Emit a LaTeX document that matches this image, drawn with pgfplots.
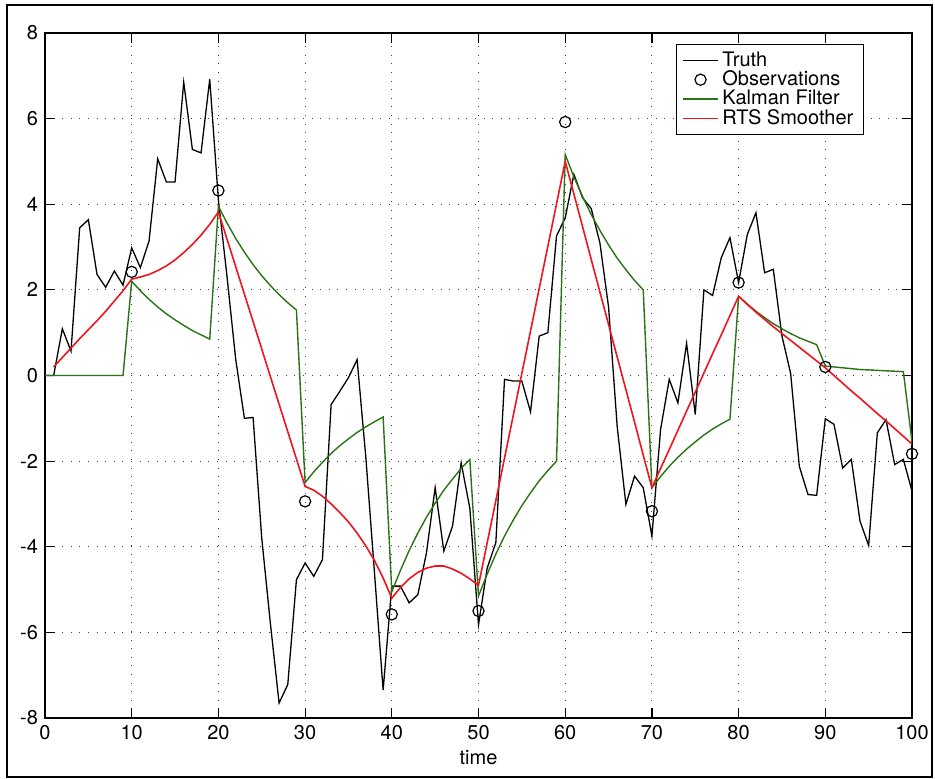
\documentclass[border=0pt]{standalone}
\usepackage{fontspec}
\setmainfont{TeX Gyre Heros}
\usepackage{pgfplots}
\usepackage{pgfplotstable}
\pgfplotsset{compat=1.18}
\definecolor{kfgreen}{RGB}{40,115,20}
\definecolor{rtsred}{RGB}{240,20,30}

\pgfplotstableread{
t y
0 0
1 0
2 1.09
3 0.57
4 3.45
5 3.64
6 2.36
7 2.06
8 2.44
9 2.11
10 2.98
11 2.52
12 3.14
13 5.06
14 4.52
15 4.52
16 6.85
17 5.28
18 5.2
19 6.92
20 4.1
21 2.3
22 0.37
23 -1.0
24 -0.98
25 -3.8
26 -5.8
27 -7.65
28 -7.22
29 -4.77
30 -4.38
31 -4.69
32 -4.3
33 -0.68
34 -0.37
35 -0.05
36 0.37
37 -1.9
38 -4.6
39 -7.35
40 -4.92
41 -4.92
42 -5.31
43 -5.12
44 -4.14
45 -2.62
46 -4.1
47 -3.52
48 -2.04
49 -3.1
50 -5.82
51 -4.5
52 -3.9
53 -0.09
54 -0.13
55 -0.13
56 -0.85
57 0.92
58 1.0
59 3.26
60 3.68
61 4.7
62 4.15
63 3.9
64 3.1
65 1.6
66 -1.2
67 -3.01
68 -2.35
69 -2.62
70 -3.75
71 -1.26
72 -0.09
73 -0.64
74 0.75
75 -0.91
76 2.0
77 1.87
78 2.75
79 3.22
80 2.17
81 3.29
82 3.8
83 2.4
84 2.48
85 0.92
86 0.05
87 -2.12
88 -2.78
89 -2.8
90 -1.01
91 -1.14
92 -2.16
93 -1.96
94 -3.4
95 -3.97
96 -1.34
97 -1.03
98 -2.08
99 -1.96
100 -2.7
}\truth

\pgfplotstableread{
t y
10 2.42
20 4.32
30 -2.94
40 -5.58
50 -5.5
60 5.92
70 -3.17
80 2.17
90 0.2
100 -1.83
}\obs

\pgfplotstableread{
t y
0 0
1 0
2 0
3 0
4 0
5 0
6 0
7 0
8 0
9 0
10 2.2
11 1.98
12 1.78
13 1.60
14 1.44
15 1.30
16 1.17
17 1.05
18 0.95
19 0.85
20 3.95
21 3.56
22 3.20
23 2.88
24 2.59
25 2.33
26 2.10
27 1.89
28 1.70
29 1.53
30 -2.5
31 -2.25
32 -2.03
33 -1.82
34 -1.64
35 -1.48
36 -1.33
37 -1.20
38 -1.08
39 -0.97
40 -5.05
41 -4.55
42 -4.09
43 -3.68
44 -3.31
45 -2.98
46 -2.68
47 -2.42
48 -2.17
49 -1.96
50 -5.15
51 -4.64
52 -4.17
53 -3.75
54 -3.38
55 -3.04
56 -2.74
57 -2.46
58 -2.22
59 -2.0
60 5.16
61 4.64
62 4.18
63 3.76
64 3.39
65 3.05
66 2.74
67 2.47
68 2.22
69 2.0
70 -2.62
71 -2.36
72 -2.12
73 -1.91
74 -1.72
75 -1.55
76 -1.39
77 -1.25
78 -1.13
79 -1.02
80 1.85
81 1.67
82 1.50
83 1.35
84 1.21
85 1.09
86 0.98
87 0.88
88 0.80
89 0.72
90 0.22
91 0.20
92 0.18
93 0.16
94 0.14
95 0.13
96 0.12
97 0.11
98 0.10
99 0.09
100 -1.55
}\kf

\pgfplotstableread{
t y
1 0.2
2 0.42
3 0.64
4 0.86
5 1.07
6 1.28
7 1.5
8 1.74
9 1.98
10 2.25
11 2.3
12 2.36
13 2.45
14 2.56
15 2.7
16 2.87
17 3.06
18 3.28
19 3.53
20 3.82
21 3.18
22 2.54
23 1.90
24 1.26
25 0.62
26 -0.03
27 -0.67
28 -1.31
29 -1.95
30 -2.59
31 -2.68
32 -2.82
33 -3.0
34 -3.2
35 -3.42
36 -3.68
37 -3.98
38 -4.32
39 -4.73
40 -5.2
41 -4.95
42 -4.75
43 -4.6
44 -4.5
45 -4.45
46 -4.45
47 -4.52
48 -4.62
49 -4.75
50 -4.9
51 -3.91
52 -2.92
53 -1.93
54 -0.94
55 0.05
56 1.04
57 2.03
58 3.02
59 4.01
60 5.0
61 4.24
62 3.48
63 2.71
64 1.95
65 1.19
66 0.43
67 -0.33
68 -1.09
69 -1.86
70 -2.62
71 -2.17
72 -1.73
73 -1.28
74 -0.83
75 -0.39
76 0.06
77 0.51
78 0.95
79 1.40
80 1.85
81 1.66
82 1.48
83 1.31
84 1.14
85 0.98
86 0.82
87 0.66
88 0.5
89 0.34
90 0.18
91 0.0
92 -0.18
93 -0.36
94 -0.53
95 -0.71
96 -0.89
97 -1.06
98 -1.24
99 -1.42
100 -1.6
}\rts

\begin{document}
\begin{tikzpicture}
\useasboundingbox (-22.5pt,-30pt) rectangle (445pt,359pt);
\draw[line width=0.6pt] (-19pt,-29.5pt) rectangle (443.5pt,356.5pt);
\begin{axis}[
  at={(0pt,0pt)}, anchor=south west,
  scale only axis,
  width=433.5pt, height=342.5pt,
  xmin=0, xmax=100, ymin=-8, ymax=8,
  xtick={0,10,...,100},
  ytick={-8,-6,...,8},
  tick align=inside,
  xtick pos=both, ytick pos=both,
  major tick length=5pt,
  axis line style={line width=0.6pt},
  tick style={line width=0.6pt, black},
  grid=major,
  major grid style={black!75, line width=0.5pt, dash pattern=on 0.5pt off 3.8pt},
  /pgf/number format/assume math mode=true,
  ticklabel style={font=\fontsize{10}{12}\selectfont},
  xlabel={time},
  xlabel style={font=\fontsize{10}{12}\selectfont, yshift=1.5pt},
  legend style={at={(0.9446,0.984)}, anchor=north east, draw=black, line width=0.6pt,
    font=\fontsize{10}{11.5}\selectfont, inner xsep=3pt, inner ysep=2pt, row sep=-2.2pt,
    nodes={inner ysep=1.5pt}},
  legend image code/.code={\draw[mark repeat=2,mark phase=2,#1] plot coordinates {(0cm,0cm) (0.3cm,0cm) (0.6cm,0cm)};},
  legend cell align=left,
]
\addplot[black, line width=0.65pt] table[x=t,y=y] {\truth};
\addlegendentry{Truth}
\addplot[only marks, mark=o, mark size=2.8pt, mark options={line width=0.6pt, black}] table[x=t,y=y] {\obs};
\addlegendentry{Observations}
\addplot[kfgreen, line width=0.7pt] table[x=t,y=y] {\kf};
\addlegendentry{Kalman Filter}
\addplot[rtsred, line width=0.8pt] table[x=t,y=y] {\rts};
\addlegendentry{RTS Smoother}
\end{axis}
\end{tikzpicture}
\end{document}
